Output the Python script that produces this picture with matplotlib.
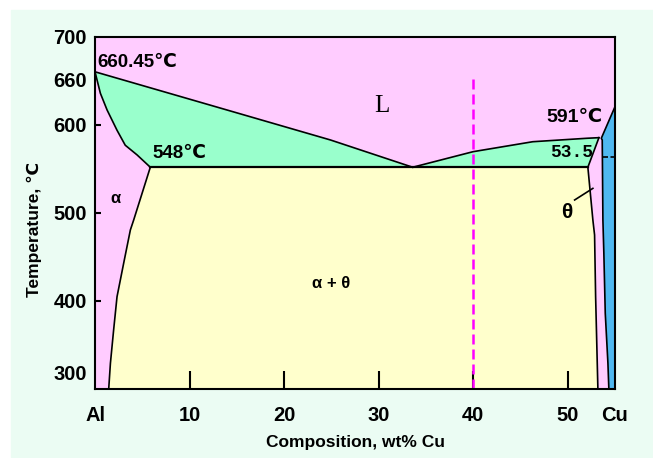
import matplotlib
matplotlib.use("Agg")
import matplotlib.pyplot as plt
from matplotlib.patches import Rectangle
from matplotlib.transforms import ScaledTranslation

plt.rcParams['font.family'] = ['Liberation Sans', 'DejaVu Sans']
plt.rcParams['font.weight'] = 'bold'
plt.rcParams['axes.labelweight'] = 'bold'

# Al-Cu phase diagram (wt% Cu, deg C)
eutectic_t = 552
liq_al_x = [0, 12.5, 24.9, 33.6]
liq_al_t = [660.45, 621.6, 583, eutectic_t]
liq_th_x = [33.6, 40.0, 46.3, 52.0, 53.3]
liq_th_t = [eutectic_t, 569.7, 581, 584.9, 585.6]
sol_al_x = [0, 0.57, 1.28, 2.33, 3.2, 4.45, 5.85]
sol_al_t = [660.45, 636, 617, 594, 577, 566, eutectic_t]
solv_al_x = [5.85, 4.09, 3.74, 3.03, 2.33, 1.97, 1.63, 1.45]
solv_al_t = [eutectic_t, 492, 480.7, 442.8, 404.9, 367, 329.2, 300]
sol_th_x = [53.3, 52.13]
sol_th_t = [585.6, eutectic_t]
solv_th_x = [52.13, 52.66, 52.84, 52.95, 53.19]
solv_th_t = [eutectic_t, 492, 475, 405, 300]
cu_edge_x = [55.0, 53.55, 53.65, 53.72, 53.82, 53.97, 54.25, 54.35]
cu_edge_t = [620.8, 584.9, 583, 492, 454.5, 386, 329.5, 300]
cu_split_t = 564
alloy_x = 40
alloy_top = 655

x_ticks = [10, 20, 30, 40, 50]
y_ticks = [400, 500, 600]
y_extra = [300, 660, 700]

pink = '#ffccff'
green = '#99ffcc'
yellow = '#ffffcc'
blue = '#50b8f0'
mint = '#ebfcf3'

fig = plt.figure(figsize=(6.53, 4.58), dpi=100)
fig.add_artist(Rectangle((11 / 653, 1 / 458), 1, 447 / 458, transform=fig.transFigure,
                         color=mint, zorder=-5))
ax = fig.add_axes([95 / 653, 1 - 389 / 458, 520 / 653, 352 / 458])
ax.set_facecolor(pink)
ax.set_xlim(0, 55)
ax.set_ylim(300, 700)

# Fills
ax.fill(liq_al_x + sol_al_x[::-1], liq_al_t + sol_al_t[::-1], color=green, lw=0)
ax.fill(liq_th_x + sol_th_x[1:] + [liq_th_x[0]],
        liq_th_t + sol_th_t[1:] + [liq_th_t[0]], color=green, lw=0)
ax.fill(solv_al_x[::-1] + solv_th_x, solv_al_t[::-1] + solv_th_t, color=yellow, lw=0)
ax.fill(cu_edge_x + [55], cu_edge_t + [300], color=blue, lw=0)

# Boundaries
k = dict(color='black', lw=1.2)
ax.plot(liq_al_x, liq_al_t, **k)
ax.plot(liq_th_x, liq_th_t, **k)
ax.plot(sol_al_x, sol_al_t, **k)
ax.plot(solv_al_x, solv_al_t, **k)
ax.plot(sol_th_x, sol_th_t, **k)
ax.plot(solv_th_x, solv_th_t, **k)
ax.plot(cu_edge_x, cu_edge_t, **k)
ax.plot([solv_al_x[0], solv_th_x[0]], [eutectic_t, eutectic_t], color='black', lw=1.6)
ax.plot([53.7, 55], [cu_split_t, cu_split_t], color='black', lw=1.2, ls=(0, (3, 1.5)))
ax.plot([alloy_x, alloy_x], [300, alloy_top], color='#ff00ff', lw=1.8, ls=(0, (4, 2)))

# Labels
ax.text(0.2, 671.5, '660.45℃', fontsize=13.5, ha='left', va='center')
ax.text(6.1, 568, '548℃', fontsize=13.5, ha='left', va='center')
ax.text(47.7, 609, '591℃', fontsize=14, ha='left', va='center')
ax.text(48.1, 569, '53.5', fontsize=13, ha='left', va='center', family='Liberation Mono')
ax.text(2.15, 516, 'α', fontsize=12, ha='center', va='center')
ax.text(30.3, 622, 'L', fontsize=18, ha='center', va='center', family='Liberation Serif',
        weight='normal')
ax.text(49.85, 501, 'θ', fontsize=15, ha='center', va='center')
ax.plot([50.73, 52.66], [514.8, 528], color='black', lw=1.2)
ax.text(25.0, 420, 'α + θ', fontsize=12, ha='center', va='center')

# Axes and ticks
for s in ax.spines.values():
    s.set_linewidth(1.5)
ax.set_xticks(x_ticks)
ax.set_xticklabels([str(v) for v in x_ticks])
ax.set_xticks([0, 55], ['Al', 'Cu'], minor=True)
ax.set_yticks(y_ticks)
ax.set_yticklabels([str(v) for v in y_ticks])
ax.set_yticks(y_extra, [str(v) for v in y_extra], minor=True)
ax.tick_params(axis='x', which='major', direction='in', length=13, width=1.5, pad=12,
               labelsize=14.5)
ax.tick_params(axis='x', which='minor', length=0, pad=12, labelsize=14.5)
ax.tick_params(axis='y', which='major', direction='in', length=4, width=1.5, pad=6,
               labelsize=14.5)
ax.tick_params(axis='y', which='minor', length=0, pad=6, labelsize=14.5)
for t in ax.yaxis.get_minor_ticks():
    lab = t.label1
    if lab.get_text() == '300':
        lab.set_transform(lab.get_transform() + ScaledTranslation(0, 12 / 72, fig.dpi_scale_trans))
    elif lab.get_text() == '660':
        lab.set_transform(lab.get_transform() + ScaledTranslation(0, -5 / 72, fig.dpi_scale_trans))

ax.set_xlabel('Composition, wt% Cu', fontsize=12.5)
ax.set_ylabel('Temperature, ℃', fontsize=12.5)
ax.xaxis.set_label_coords(0.5, -0.131)
ax.yaxis.set_label_coords(-0.102, 0.452)

fig.savefig('out.png', dpi=100)
